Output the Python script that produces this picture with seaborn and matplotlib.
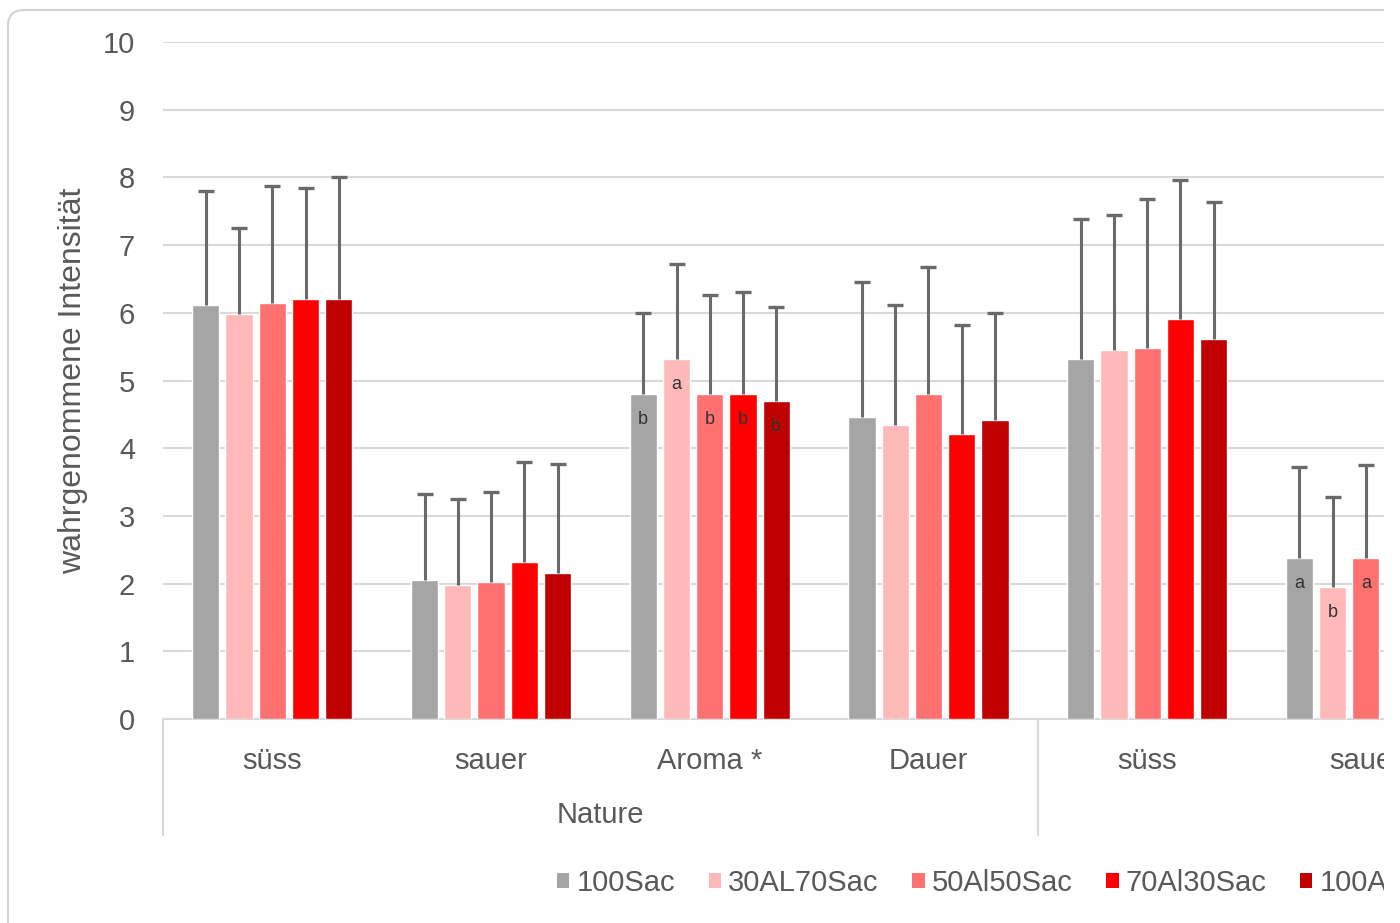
import numpy as np
import pandas as pd
import matplotlib
matplotlib.use("Agg")
import matplotlib.pyplot as plt
import seaborn as sns
from matplotlib.patches import Patch, FancyBboxPatch, Rectangle
from matplotlib.transforms import IdentityTransform, blended_transform_factory

# categories shown on the x axis (the chart is cut off on the right)
categories = ["süss", "sauer", "Aroma *", "Dauer", "süss", "sauer"]
group_label = "Nature"
series = ["100Sac", "30AL70Sac", "50Al50Sac", "70Al30Sac", "100Al"]
colors = ["#A5A5A5", "#FFB9B9", "#FF7070", "#FF0000", "#C00000"]

# mean perceived intensity per series
mean_100sac = [6.12, 2.05, 4.80, 4.46, 5.32, 2.38]
mean_30al70sac = [5.98, 1.98, 5.32, 4.34, 5.45, 1.95]
mean_50al50sac = [6.15, 2.03, 4.80, 4.80, 5.48, 2.38]
mean_70al30sac = [6.20, 2.32, 4.80, 4.21, 5.91, 2.30]
mean_100al = [6.20, 2.16, 4.70, 4.42, 5.61, 2.20]

# standard deviation (upper error bar only)
sd_100sac = [1.68, 1.28, 1.20, 1.99, 2.06, 1.34]
sd_30al70sac = [1.27, 1.27, 1.40, 1.78, 2.00, 1.33]
sd_50al50sac = [1.73, 1.32, 1.47, 1.88, 2.20, 1.37]
sd_70al30sac = [1.65, 1.48, 1.50, 1.61, 2.05, 1.40]
sd_100al = [1.80, 1.61, 1.38, 1.58, 2.02, 1.40]

# significance letters
let_100sac = ["", "", "b", "", "", "a"]
let_30al70sac = ["", "", "a", "", "", "b"]
let_50al50sac = ["", "", "b", "", "", "a"]
let_70al30sac = ["", "", "b", "", "", ""]
let_100al = ["", "", "b", "", "", ""]

means = [mean_100sac, mean_30al70sac, mean_50al50sac, mean_70al30sac, mean_100al]
sds = [sd_100sac, sd_30al70sac, sd_50al50sac, sd_70al30sac, sd_100al]
letters = [let_100sac, let_30al70sac, let_50al50sac, let_70al30sac, let_100al]

rows = []
for name, m in zip(series, means):
    for i, v in enumerate(m):
        rows.append({"slot": i, "series": name, "mean": v})
df = pd.DataFrame(rows)

sns.set_style("white")
plt.rcParams["font.family"] = ["Liberation Sans", "DejaVu Sans"]
text_col = "#595959"
grid_col = "#D9D9D9"
err_col = "#6A6A6A"

fig = plt.figure(figsize=(14, 9.23), dpi=100)
fig.patch.set_facecolor("white")

# card frame around the chart
frame = FancyBboxPatch((8, -100), 2000, 1013, boxstyle="round,pad=0,rounding_size=16",
                       transform=IdentityTransform(), fc="white", ec="#D3D3D3", lw=1.5, zorder=-10)
fig.add_artist(frame)

right_px = 1384
ax = fig.add_axes([163 / 1400, 1 - 719 / 923, (right_px - 163) / 1400, (719 - 42) / 923])
ax.set_facecolor("none")

sns.barplot(data=df, x="slot", y="mean", hue="series", hue_order=series, palette=colors,
            width=0.76, gap=0.18, saturation=1, legend=False, ax=ax, zorder=3)

for cont, sd_list, let_list in zip(ax.containers, sds, letters):
    for bar, sd, lt in zip(cont, sd_list, let_list):
        x = bar.get_x() + bar.get_width() / 2
        h = bar.get_height()
        ax.vlines(x, h, h + sd, color=err_col, lw=2.2, zorder=4)
        ax.plot([x], [h + sd], marker="_", ms=11, mew=2.4, color=err_col, zorder=4)
        if lt:
            ax.text(x, h - 0.38, lt, ha="center", va="center", fontsize=13, color="#333333", zorder=5)

ax.set_ylim(0, 10)
ax.set_xlim(-0.5, -0.5 + (right_px - 163) / 218.7)
ax.set_yticks(range(0, 11))
ax.yaxis.grid(True, color=grid_col, lw=1.5, zorder=0)
ax.set_axisbelow(True)
for s in ["left", "top", "right"]:
    ax.spines[s].set_visible(False)
ax.spines["bottom"].set_color(grid_col)
ax.spines["bottom"].set_linewidth(1.5)

ax.set_xticks(range(len(categories)))
ax.set_xticklabels(categories)
ax.tick_params(axis="x", length=0, pad=20, labelsize=21, labelcolor=text_col)
ax.tick_params(axis="y", length=0, pad=20, labelsize=21, labelcolor=text_col)
ax.set_xlabel("")
ax.set_ylabel("wahrgenommene Intensität", fontsize=23, color=text_col)
ax.yaxis.set_label_coords(-(163 - 88) / (right_px - 163), 0.5)

trans = blended_transform_factory(ax.transData, ax.transAxes)
for xv in [-0.5, 3.5]:
    ax.plot([xv, xv], [0, -0.172], transform=trans, color=grid_col, lw=1.5, clip_on=False)
ax.text(1.5, -0.142, group_label, transform=trans, ha="center", va="center",
        fontsize=21, color=text_col)

handles = [Patch(facecolor=c, edgecolor="none") for c in colors]
fig.legend(handles, series, loc="center left", bbox_to_anchor=(557 / 1400, 1 - 883 / 923),
           ncol=5, frameon=False, fontsize=21, handlelength=0.42, handleheight=0.42,
           handletextpad=0.25, columnspacing=1.15, borderpad=0, borderaxespad=0,
           labelcolor=text_col)

# the reference is cut off at the right edge
fig.add_artist(Rectangle((right_px, 0), 100, 1000, transform=IdentityTransform(),
                         fc="white", ec="none", zorder=100))

fig.savefig("out.png", dpi=100)
